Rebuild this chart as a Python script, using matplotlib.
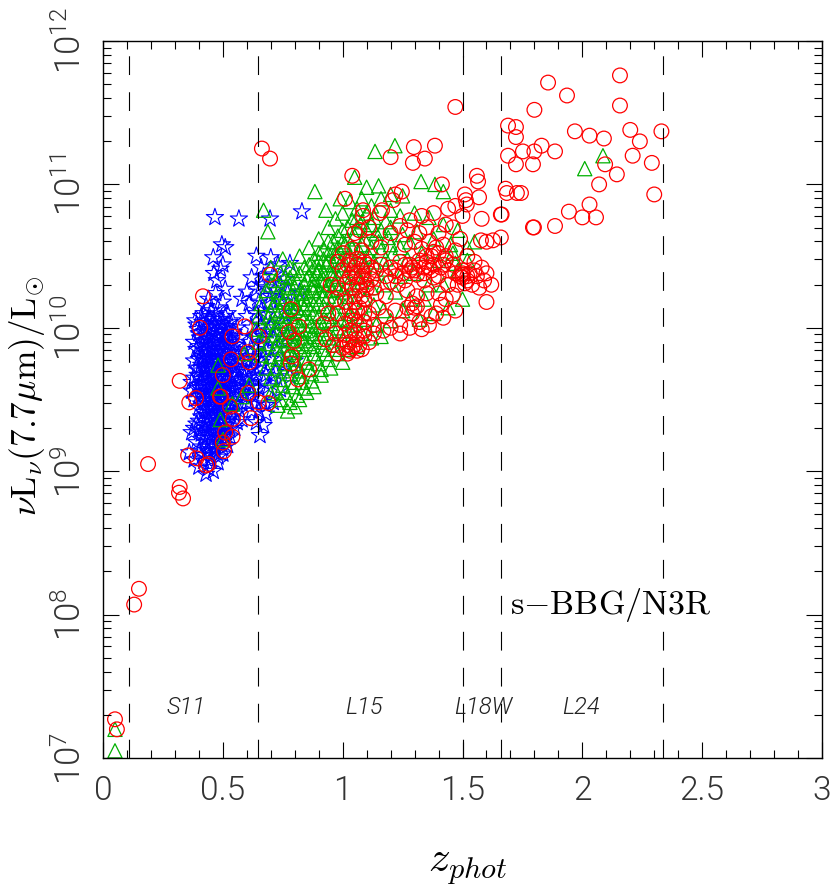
# z_phot vs nuL_nu(7.7um) for the s-BBG/N3R sample
# Values (z, log10 L)

import numpy as np
import matplotlib
matplotlib.use("Agg")
import matplotlib.pyplot as plt
from matplotlib.ticker import FixedLocator, NullFormatter

blue_pts = [
    (.467,10.77),(.567,10.76),(.697,10.76),(.83,10.81),(.496,10.58),(.51,10.56),(.46,10.49),(.50,10.44),
    (.463,10.38),(.49,10.41),(.475,10.33),(.51,10.27),(.58,10.2),(.47,10.24),(.44,10.2),(.43,10.15),(.50,10.18),
    (.39,10.02),(.41,10.08),(.40,9.96),(.45,10.12),(.48,10.14),(.46,10.06),(.52,10.1),(.54,10.05),(.43,10.03),
    (.50,10.03),(.38,9.9),(.42,9.97),(.45,9.98),(.48,9.98),(.52,9.98),(.56,10.0),(.39,9.85),(.41,9.9),(.44,9.92),
    (.47,9.91),(.50,9.93),(.53,9.9),(.57,9.93),(.42,9.84),(.45,9.86),(.48,9.85),(.51,9.86),(.55,9.84),(.59,9.85),
    (.40,9.78),(.43,9.8),(.46,9.79),(.49,9.8),(.52,9.78),(.56,9.79),(.60,9.77),(.39,9.72),(.41,9.74),(.44,9.73),
    (.47,9.74),(.50,9.72),(.54,9.73),(.58,9.71),(.62,9.72),(.38,9.65),(.42,9.67),(.45,9.68),(.48,9.66),(.51,9.67),
    (.55,9.66),(.59,9.65),(.63,9.66),(.40,9.6),(.43,9.61),(.46,9.6),(.49,9.62),(.53,9.6),(.57,9.61),(.61,9.59),
    (.37,9.56),(.41,9.55),(.44,9.54),(.47,9.56),(.50,9.55),(.54,9.54),(.58,9.55),(.62,9.53),(.38,9.5),(.42,9.49),
    (.45,9.5),(.48,9.48),(.51,9.5),(.55,9.48),(.60,9.48),(.40,9.44),(.43,9.43),(.46,9.44),(.49,9.42),(.52,9.44),
    (.57,9.42),(.41,9.38),(.44,9.37),(.47,9.38),(.50,9.36),(.53,9.38),(.58,9.36),(.39,9.33),(.42,9.32),(.45,9.33),
    (.48,9.31),(.51,9.32),(.55,9.3),(.37,9.27),(.41,9.26),(.44,9.25),(.47,9.27),(.50,9.25),(.53,9.24),(.39,9.2),
    (.43,9.2),(.46,9.19),(.49,9.2),(.52,9.18),(.36,9.13),(.40,9.14),(.44,9.13),(.47,9.14),(.50,9.12),(.38,9.08),
    (.42,9.07),(.45,9.08),(.48,9.06),(.40,9.03),(.44,9.02),(.46,9.0),(.43,8.98),
    (.64,10.5),(.70,10.49),(.66,10.42),(.73,10.44),(.78,10.45),(.62,10.35),(.67,10.36),(.71,10.37),(.76,10.34),
    (.60,10.25),(.64,10.27),(.68,10.28),(.72,10.26),(.77,10.24),(.82,10.25),(.61,10.17),(.65,10.18),(.69,10.17),
    (.74,10.19),(.60,10.08),(.64,10.1),(.68,10.09),(.72,10.11),(.79,10.1),(.62,10.0),(.66,10.02),(.70,10.01),
    (.75,10.03),(.63,9.93),(.67,9.94),(.71,9.92),(.77,9.95),(.64,9.85),(.68,9.84),(.73,9.86),(.66,9.76),(.70,9.78),
    (.75,9.75),(.80,9.77),(.64,9.68),(.68,9.67),(.72,9.69),(.78,9.66),(.65,9.58),(.69,9.59),(.74,9.57),(.66,9.5),
    (.71,9.48),(.65,9.42),(.68,9.4),(.64,9.34),(.67,9.32),(.655,9.25),
]

blue_core_pts = [
    (.385,10.05),(.42,10.1),(.44,10.07),(.47,10.09),(.49,10.06),(.51,10.08),(.395,9.99),(.435,10.0),(.465,10.01),
    (.485,10.02),(.515,10.01),(.545,9.97),(.405,9.93),(.43,9.94),(.46,9.95),(.49,9.96),(.51,9.95),(.54,9.94),
    (.40,9.87),(.43,9.88),(.46,9.88),(.49,9.89),(.52,9.88),(.55,9.88),(.41,9.82),(.44,9.83),(.47,9.82),(.50,9.83),
    (.53,9.83),(.57,9.82),(.38,9.77),(.42,9.77),(.45,9.76),(.48,9.77),(.51,9.76),(.54,9.77),(.58,9.76),(.40,9.7),
    (.43,9.71),(.46,9.7),(.49,9.71),(.52,9.7),(.56,9.7),(.60,9.69),(.37,9.62),(.41,9.64),(.44,9.65),(.47,9.63),
    (.50,9.64),(.53,9.64),(.57,9.64),(.39,9.58),(.42,9.59),(.45,9.58),(.48,9.59),(.51,9.58),(.55,9.58),(.59,9.58),
    (.40,9.52),(.43,9.52),(.46,9.53),(.49,9.52),(.52,9.53),(.56,9.52),(.41,9.47),(.44,9.47),(.47,9.46),(.50,9.47),
    (.53,9.47),(.58,9.47),(.42,9.41),(.45,9.41),(.48,9.4),(.51,9.41),(.55,9.4),(.40,9.35),(.43,9.35),(.46,9.36),
    (.49,9.35),(.52,9.35),(.56,9.34),(.38,9.3),(.40,9.29),(.44,9.29),(.47,9.3),(.50,9.29),(.53,9.29),(.42,9.23),
    (.45,9.23),(.48,9.24),(.51,9.22),(.41,9.17),(.44,9.17),(.47,9.17),(.50,9.16),(.42,9.11),(.45,9.11),(.48,9.1),
    (.61,9.9),(.64,9.95),(.66,9.88),(.69,9.98),(.60,9.8),(.63,9.78),(.65,9.72),(.67,9.8),(.61,9.65),(.67,9.62),
    (.71,9.66),(.63,9.58),(.60,9.52),(.64,9.47),(.68,9.46),(.62,9.42),(.66,10.12),(.70,10.22),(.66,10.3),(.74,10.3),
    (.415,10.04),(.455,10.03),(.495,10.0),(.525,10.04),(.42,9.91),(.475,9.94),(.525,9.93),(.455,9.9),(.505,9.9),
    (.435,9.85),(.465,9.84),(.495,9.86),(.535,9.86),(.415,9.79),(.445,9.78),(.475,9.79),(.505,9.79),(.545,9.8),
    (.425,9.73),(.455,9.72),(.485,9.74),(.515,9.73),(.555,9.73),(.395,9.67),(.435,9.68),(.465,9.66),(.495,9.67),
    (.535,9.67),(.415,9.61),(.445,9.62),(.475,9.6),(.515,9.61),(.555,9.62),(.435,9.56),(.465,9.55),(.495,9.57),
    (.525,9.56),(.425,9.5),(.455,9.49),(.485,9.5),(.535,9.5),(.435,9.39),(.465,9.4),(.495,9.39),(.535,9.41),
    (.425,9.28),(.455,9.27),(.485,9.28),(.515,9.27),(.435,9.15),(.465,9.15),
]

green_pts = [
    (.05,7.05),(.05,7.2),(.48,9.74),(.49,9.36),(.48,9.58),(.50,9.22),(.54,9.47),(.58,9.52),(.61,9.6),(.59,9.82),
    (1.135,11.23),(1.218,11.27),(.884,10.95),(1.327,11.02),(.67,10.82),(.688,10.67),(2.086,11.2),(2.01,11.11),
    (1.385,11.0),(1.42,10.95),(1.05,11.05),(1.1,10.98),(1.15,10.99),(1.2,10.93),(1.25,10.92),
    (.75,10.48),(.70,10.42),(.78,10.42),(.82,10.5),(.86,10.56),(.90,10.62),(.94,10.7),(.97,10.76),(1.0,10.8),
    (.93,10.82),(.99,10.9),(1.03,10.88),(1.06,10.83),(1.08,10.9),(1.12,10.85),(1.16,10.9),(1.2,10.82),
    (.72,10.33),(.76,10.36),(.80,10.4),(.84,10.42),(.88,10.48),(.92,10.55),(.96,10.6),(1.0,10.68),(1.04,10.75),
    (1.08,10.74),(1.13,10.77),(1.18,10.74),(1.24,10.78),(1.3,10.8),(1.36,10.77),(1.42,10.72),(1.48,10.68),
    (.68,10.26),(.73,10.25),(.77,10.28),(.81,10.32),(.85,10.34),(.89,10.38),(.93,10.44),(.97,10.5),(1.01,10.58),
    (1.05,10.64),(1.09,10.62),(1.14,10.66),(1.19,10.63),(1.25,10.65),(1.31,10.67),(1.38,10.62),(1.45,10.58),
    (1.52,10.56),(1.55,10.6),(.66,10.17),(.71,10.16),(.75,10.18),(.79,10.22),(.83,10.24),(.87,10.28),(.91,10.33),
    (.95,10.38),(.99,10.44),(1.03,10.5),(1.07,10.53),(1.11,10.5),(1.16,10.54),(1.21,10.52),(1.27,10.48),(1.33,10.52),
    (1.4,10.47),(1.47,10.45),(.65,10.08),(.69,10.07),(.73,10.09),(.77,10.12),(.81,10.14),(.85,10.17),(.89,10.2),
    (.93,10.26),(.97,10.31),(1.01,10.36),(1.05,10.4),(1.09,10.43),(1.13,10.38),(1.18,10.41),(1.24,10.36),(1.3,10.38),
    (1.36,10.3),(.64,9.99),(.68,9.98),(.72,10.0),(.76,10.03),(.80,10.05),(.84,10.07),(.88,10.1),(.92,10.15),
    (.96,10.2),(1.0,10.25),(1.04,10.28),(1.08,10.32),(1.12,10.28),(1.17,10.3),(1.22,10.25),(1.28,10.2),(1.25,10.12),
    (.65,9.9),(.69,9.89),(.73,9.91),(.77,9.94),(.81,9.96),(.85,9.98),(.89,10.01),(.93,10.05),(.97,10.1),(1.01,10.15),
    (1.05,10.18),(1.09,10.2),(1.13,10.16),(1.17,10.12),(1.2,10.05),(.66,9.81),(.70,9.8),(.74,9.82),(.78,9.85),
    (.82,9.87),(.86,9.89),(.9,9.92),(.94,9.96),(.98,10.0),(1.02,10.05),(1.06,10.08),(1.1,10.06),(1.14,10.02),
    (.68,9.72),(.72,9.72),(.76,9.75),(.8,9.78),(.84,9.79),(.88,9.82),(.92,9.85),(.96,9.88),(1.0,9.92),(1.04,9.95),
    (1.08,9.96),(1.12,9.93),(1.16,9.94),(.7,9.65),(.74,9.64),(.78,9.68),(.82,9.7),(.86,9.71),(.9,9.75),(.94,9.78),
    (.98,9.82),(1.02,9.85),(1.06,9.87),(.72,9.56),(.76,9.55),(.79,9.59),(.83,9.62),(.87,9.63),(.91,9.67),(.95,9.72),
    (1.0,9.76),(.74,9.5),(.78,9.48),(.81,9.53),(.85,9.55),(.88,9.59),(.77,9.42),(.8,9.45),
    (1.42,10.3),(1.48,10.4),(1.52,10.47),(1.5,10.2),(1.44,10.14),(1.38,10.1),(1.32,10.06),(1.34,10.2),(1.46,10.52),
]

green_core_pts = [
    (.78,10.35),(.82,10.38),(.86,10.44),(.9,10.46),(.94,10.52),(.98,10.56),(1.02,10.62),(1.06,10.7),(1.1,10.68),
    (.8,10.28),(.84,10.3),(.88,10.34),(.92,10.38),(.96,10.44),(1.0,10.48),(1.04,10.56),(1.08,10.58),(1.12,10.56),
    (.76,10.2),(.8,10.18),(.84,10.2),(.88,10.26),(.92,10.3),(.96,10.34),(1.0,10.4),(1.04,10.44),(1.08,10.48),
    (.74,10.12),(.78,10.08),(.82,10.1),(.86,10.13),(.9,10.17),(.94,10.22),(.98,10.27),(1.02,10.3),(1.06,10.35),
    (.7,10.04),(.74,10.05),(.78,9.99),(.82,10.02),(.86,10.05),(.9,10.08),(.94,10.12),(.98,10.18),(1.02,10.22),
    (.71,9.95),(.75,9.97),(.79,9.91),(.83,9.93),(.87,9.96),(.91,9.99),(.95,10.03),(.99,10.06),(1.03,10.1),
    (.72,9.86),(.76,9.88),(.8,9.83),(.84,9.85),(.88,9.87),(.92,9.9),(.96,9.93),(1.0,9.98),(1.04,10.02),
    (.73,9.78),(.77,9.8),(.81,9.75),(.85,9.76),(.89,9.79),(.93,9.82),(.97,9.85),(.75,9.7),(.79,9.72),(.83,9.66),
    (.87,9.68),(.91,9.71),(.75,9.6),(.8,9.62),(.84,9.58),(.7,9.54),(.73,9.46),(.82,9.5),
    (1.12,10.72),(1.16,10.68),(1.2,10.7),(1.15,10.6),(1.2,10.58),(1.13,10.46),(1.18,10.48),(1.24,10.56),(1.28,10.6),
    (.9,10.52),(.94,10.6),(.98,10.64),(1.02,10.7),(1.06,10.77),(1.1,10.8),(.88,10.42),(.92,10.48),(.96,10.54),
    (1.0,10.6),(.86,10.37),(.9,10.4),(.94,10.46),(.98,10.5),(.84,10.25),(.88,10.3),(.92,10.34),(.96,10.38),
    (.82,10.2),(.86,10.22),(.9,10.26),(.94,10.3),(.98,10.36),(.8,10.12),(.84,10.14),(.88,10.16),(.92,10.22),
    (.96,10.26),(.78,10.15),(.74,10.22),(.7,10.3),(.74,10.38),(.78,10.3),(.72,10.18),(.76,10.08),(.7,10.11),
    (.83,9.99),(.87,10.02),(.91,10.04),(.95,10.08),(.79,9.97),(.75,9.92),(.8,9.89),(.84,9.91),(.88,9.94),(.92,9.96),
]

red_pts = [
    (.05,7.27),(.058,7.2),(.13,8.07),(.15,8.18),(.188,9.05),(.32,8.89),(.317,8.85),(.334,8.81),(.32,9.63),
    (.417,10.22),(.405,10.0),(.592,10.01),(.54,9.94),(.65,9.94),(.605,9.83),(.534,9.78),(.61,9.76),(.50,9.67),
    (.388,9.51),(.36,9.48),(.488,9.52),(.492,9.52),(.605,9.545),(.53,9.45),(.65,9.48),(.69,9.475),(.542,9.365),
    (.617,9.37),(.51,9.27),(.54,9.24),(.50,9.2),(.505,9.14),(.355,9.11),(.39,9.09),(.44,9.05),(.43,9.04),
    (.697,10.37),(.784,10.13),(.776,9.97),(.818,10.01),(.797,9.91),(.788,9.80),(.784,9.75),(.86,9.71),(.813,9.64),
    (.663,11.25),(.697,11.18),
    (1.297,11.26),(1.385,11.27),(1.20,11.19),(1.343,11.18),(1.293,11.15),(1.04,11.06),(1.414,11.0),
    (1.56,11.06),(1.565,11.02),(1.569,10.91),(1.51,10.93),(1.514,10.89),(1.518,10.86),(1.58,10.76),(1.577,10.61),
    (1.6,10.6),(1.627,10.61),(1.66,10.63),(1.6,10.18),(1.68,10.97),(1.685,10.94),(1.727,10.94),(1.744,10.94),
    (1.66,10.79),(1.663,10.79),(1.794,10.70),(1.47,11.54),
    (1.857,11.71),(2.157,11.76),(1.936,11.62),(2.157,11.55),(1.80,11.52),(1.69,11.41),(1.723,11.40),(1.723,11.33),
    (1.752,11.23),(1.723,11.14),(1.69,11.2),(1.80,11.23),(1.794,11.14),(1.83,11.27),(1.886,11.23),(1.969,11.37),
    (2.03,11.34),(2.09,11.32),(2.2,11.38),(2.24,11.30),(2.21,11.2),(2.33,11.37),(2.29,11.15),(2.144,11.07),
    (2.095,11.14),(2.07,11.0),(2.30,10.93),(1.944,10.81),(2.03,10.86),(2.057,10.77),(2.0,10.77),(1.886,10.71),
    (1.798,10.70),
    (1.247,10.95),(1.22,10.93),(1.21,10.89),(1.01,10.9),(1.085,10.82),(1.085,10.78),(1.164,10.82),(1.155,10.8),
    (1.28,10.75),(1.33,10.78),(1.38,10.8),(1.44,10.83),(1.47,10.85),(1.43,10.72),(1.5,10.78),(1.35,10.7),
    (1.27,10.68),(1.32,10.66),(1.24,10.71),(1.4,10.66),(1.46,10.7),(1.2,10.66),(1.3,10.6),(1.36,10.6),(1.42,10.58),
    (1.49,10.62),(1.26,10.58),(1.33,10.55),(1.38,10.53),(1.35,10.5),(1.39,10.56),(1.43,10.5),(1.47,10.54),(1.52,10.5),
    (1.55,10.46),(1.58,10.42),(1.6,10.38),(1.56,10.36),(1.59,10.33),(1.62,10.3),(1.54,10.3),(1.57,10.28),(1.5,10.35),
    (1.53,10.38),(1.5,10.4),(1.48,10.3),(1.52,10.33),(1.49,10.36),(1.44,10.4),(1.4,10.36),(1.36,10.42),(1.32,10.47),
    (1.28,10.44),(1.24,10.46),(1.2,10.42),(1.16,10.44),(1.22,10.4),(1.3,10.4),(1.34,10.38),(1.38,10.44),(1.42,10.44),
    (1.46,10.44),(1.18,10.36),(1.14,10.4),(1.1,10.44),(1.06,10.48),(1.02,10.44),(1.08,10.54),(1.12,10.6),(1.16,10.56),
    (1.04,10.55),(1.0,10.52),(.98,10.46),(1.0,10.4),(1.04,10.38),(1.08,10.36),(1.12,10.34),(1.06,10.3),(1.1,10.27),
    (1.02,10.32),(.98,10.28),(.95,10.3),(1.14,10.24),(1.18,10.22),(1.05,10.22),(1.09,10.2),(1.01,10.18),(.97,10.2),
    (.94,10.1),(.92,10.03),(.98,10.1),(1.03,10.12),(1.07,10.14),(1.11,10.1),(1.15,10.14),(1.05,10.05),(1.09,10.04),
    (1.01,10.03),(1.13,10.02),(.93,9.92),(.97,9.96),(1.01,9.95),(1.05,9.97),(1.09,9.94),(1.13,9.96),(1.17,9.98),
    (.96,9.88),(1.0,9.86),(1.03,9.9),(1.07,9.88),(1.11,9.9),(.98,9.82),(1.02,9.82),(1.06,9.84),(1.04,9.86),
    (1.23,10.3),(1.27,10.26),(1.31,10.22),(1.35,10.24),(1.29,10.17),(1.27,10.14),(1.29,10.1),(1.3,10.14),(1.31,10.15),
    (1.22,10.12),(1.18,10.08),(1.24,10.02),(1.2,10.0),(1.24,9.96),(1.28,10.0),(1.32,10.04),(1.37,10.08),(1.39,10.1),
    (1.42,10.07),(1.36,10.02),(1.33,9.99),(1.43,10.2),(1.46,10.23),(1.4,10.24),(1.44,10.3),(1.41,10.16),
    (1.47,10.12),(1.47,10.38),(1.51,10.31),(1.55,10.4),(1.07,10.68),(1.11,10.7),(1.05,10.66),
]

red_core_pts = [
    (1.03,10.47),(1.06,10.44),(1.09,10.46),(1.12,10.42),(1.05,10.42),(1.08,10.4),(1.11,10.38),(1.03,10.35),(1.06,10.36),
    (1.09,10.33),(1.04,10.28),(1.07,10.26),(1.1,10.3),(1.13,10.28),(1.05,10.18),(1.08,10.22),(1.06,10.12),(1.09,10.1),
    (1.04,10.08),(1.07,10.02),(1.03,9.98),(1.06,9.92),(1.09,9.98),(1.02,9.88),(1.05,9.88),(1.08,9.85),(1.03,9.84),
    (1.26,10.44),(1.29,10.42),(1.32,10.44),(1.35,10.46),(1.37,10.5),(1.4,10.52),(1.34,10.42),(1.37,10.4),(1.31,10.37),
    (1.34,10.33),(1.38,10.35),(1.41,10.42),(1.43,10.47),(1.28,10.4),(1.25,10.38),(1.22,10.36),(1.2,10.32),(1.26,10.33),
    (1.5,10.38),(1.52,10.36),(1.5,10.37),
]

z_edges = [0.11, 0.647, 1.5, 1.66, 2.336]
band_names = ["S11", "L15", "L18W", "L24"]
band_z = [0.345, 1.09, 1.585, 1.995]
y_decades = [7, 8, 9, 10, 11, 12]
x_major = [0, 0.5, 1, 1.5, 2, 2.5, 3]
x_labels = ["0", "0.5", "1", "1.5", "2", "2.5", "3"]

plt.rcParams["font.family"] = ["Roboto", "DejaVu Sans"]
plt.rcParams["font.weight"] = 300
plt.rcParams["mathtext.fontset"] = "cm"
plt.rcParams["lines.scale_dashes"] = False

fig = plt.figure(figsize=(8.3, 8.88), dpi=100)
ax = fig.add_axes([103/830, 1 - 758/888, (822 - 103)/830, (758 - 41)/888])

blue = np.array(blue_pts + blue_core_pts)
green = np.array(green_pts + green_core_pts)
red = np.array(red_pts + red_core_pts)

ax.scatter(blue[:, 0], 10**blue[:, 1], marker="*", s=170, facecolors="none",
           edgecolors="#0000ff", linewidths=0.8, clip_on=False)
ax.scatter(green[:, 0], 10**green[:, 1], marker="^", s=105, facecolors="none",
           edgecolors="#00b000", linewidths=0.9, clip_on=False)
ax.scatter(red[:, 0], 10**red[:, 1], marker="o", s=112, facecolors="none",
           edgecolors="#ff0000", linewidths=0.9, clip_on=False)

for z in z_edges:
    ax.axvline(z, color="black", lw=0.8, dashes=(13.5, 12.4))

for name, z in zip(band_names, band_z):
    ax.text(z, 10**7.35, name, fontsize=17, style="italic", ha="center", va="center", color="#222222")

ax.text(1.70, 10**8.07, r"$\mathrm{s{-}BBG/N3R}$", fontsize=24.5, ha="left", va="center")

ax.set_xlim(0, 3)
ax.set_yscale("log")
ax.set_ylim(1e7, 1e12)

ax.xaxis.set_major_locator(FixedLocator(x_major))
ax.set_xticklabels(x_labels, fontsize=24, color="#333333")
ax.xaxis.set_minor_locator(FixedLocator(np.arange(0, 3.01, 0.1)))
ax.xaxis.set_minor_formatter(NullFormatter())

ax.yaxis.set_major_locator(FixedLocator([10.0**d for d in y_decades]))
ax.set_yticklabels([rf"$\mathdefault{{10^{{{d}}}}}$" for d in y_decades], fontsize=25,
                   rotation=90, va="center", color="#333333")
ax.yaxis.set_minor_locator(FixedLocator([m * 10.0**d for d in y_decades[:-1] for m in range(2, 10)]))
ax.yaxis.set_minor_formatter(NullFormatter())

ax.tick_params(which="major", direction="in", length=11.5, width=0.8, top=True, right=True)
ax.tick_params(which="minor", direction="in", length=5.8, width=0.8, top=True, right=True)
ax.tick_params(axis="x", which="major", pad=12)
ax.tick_params(axis="y", which="major", pad=11)
for s in ax.spines.values():
    s.set_linewidth(1.0)

fig.text(27/830, 1 - 396/888, r"$\nu\mathrm{L}_{\nu}(7.7\mu\mathrm{m})/\mathrm{L}_{\odot}$",
         fontsize=25.5, rotation=90, ha="center", va="center")
fig.text(468/830, 1 - 866/888, r"$z_{phot}$", fontsize=31, ha="center", va="center")

fig.savefig("out.png", dpi=100)
